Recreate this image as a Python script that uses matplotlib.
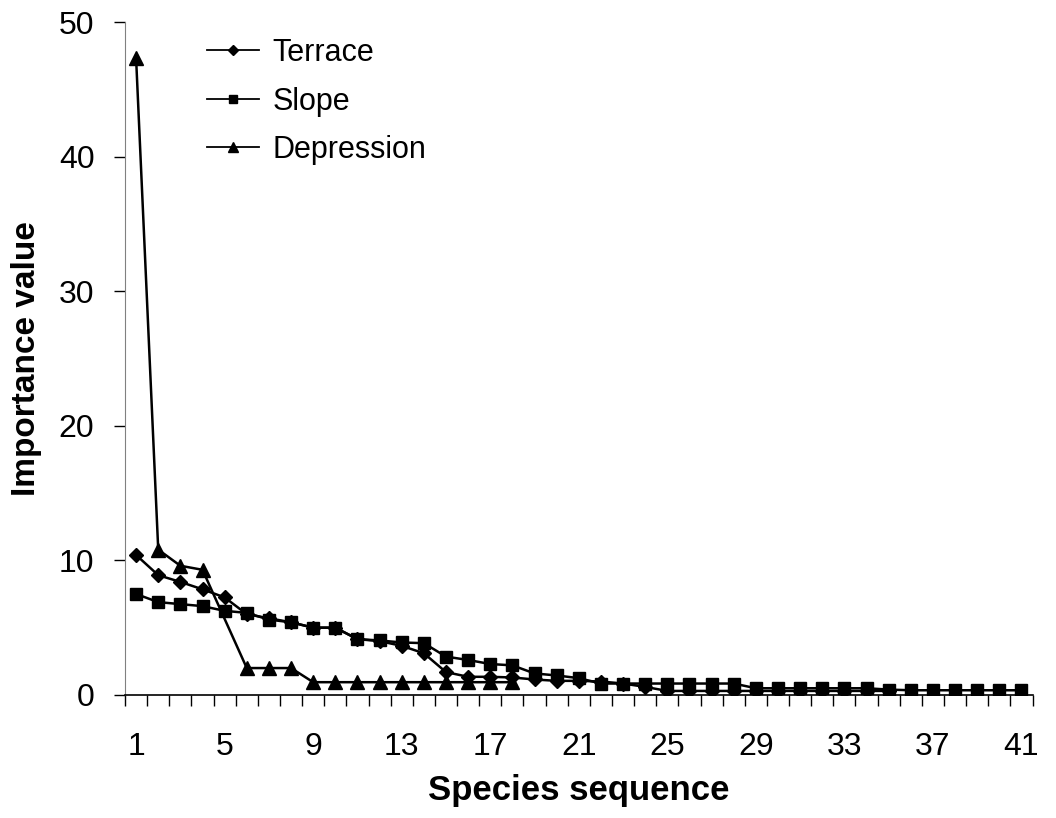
import numpy as np
import matplotlib.pyplot as plt
from matplotlib.ticker import FixedLocator

plt.rcParams["font.family"] = ["Liberation Sans", "DejaVu Sans"]

species = np.arange(1, 42)

terrace = [10.4, 8.9, 8.4, 7.85, 7.25, 6.0, 5.7, 5.4, 5.0, 5.0,
           4.15, 4.0, 3.65, 3.1, 1.7, 1.35, 1.35, 1.3, 1.15, 1.05,
           1.05, 1.0, 0.85, 0.6, 0.3, 0.3, 0.3, 0.3, 0.3, 0.3,
           0.3, 0.3, 0.3, 0.3, 0.3]
slope = [7.5, 6.9, 6.75, 6.6, 6.25, 6.1, 5.6, 5.4, 5.0, 5.0,
         4.15, 4.05, 3.9, 3.85, 2.85, 2.6, 2.3, 2.2, 1.6, 1.45,
         1.25, 0.85, 0.85, 0.85, 0.85, 0.85, 0.85, 0.85, 0.5, 0.5,
         0.5, 0.5, 0.5, 0.5, 0.4, 0.35, 0.35, 0.35, 0.35, 0.35, 0.35]
# species 5 has no depression value
depression = [47.3, 10.8, 9.6, 9.3, np.nan, 2.0, 2.0, 2.0, 0.95, 0.95,
              0.95, 0.95, 0.95, 0.95, 0.95, 0.95, 0.95, 0.95]

fig = plt.figure(figsize=(10.56, 8.18), dpi=100)
ax = fig.add_axes([0.1184, 0.1504, 0.8594, 0.8227])

style = dict(color="black", linewidth=1.8)
ax.plot(species[:len(terrace)], terrace, marker="D", markersize=7.5,
        label="Terrace", **style)
ax.plot(species[:len(slope)], slope, marker="s", markersize=8,
        label="Slope", **style)
dep = np.array(depression)
ok = ~np.isnan(dep)
ax.plot(species[:len(dep)][ok], dep[ok], marker="^", markersize=10,
        label="Depression", **style)

ax.set_xlim(0.5, 41.5)
ax.set_ylim(0, 50)
ax.set_yticks([0, 10, 20, 30, 40, 50])
ax.set_xticks(np.arange(1, 42, 4))
ax.xaxis.set_minor_locator(FixedLocator(np.arange(0.5, 42, 1)))
ax.tick_params(axis="x", which="major", length=0, pad=27, labelsize=23)
ax.tick_params(axis="x", which="minor", length=8, width=1, direction="out")
ax.tick_params(axis="y", length=8, width=1, direction="out", pad=14, labelsize=23)

ax.spines["top"].set_visible(False)
ax.spines["right"].set_visible(False)
ax.spines["left"].set_color("#808080")
ax.spines["bottom"].set_linewidth(1.2)

ax.set_xlabel("Species sequence", fontsize=25, fontweight="bold", labelpad=8)
ax.set_ylabel("Importance value", fontsize=24, fontweight="bold", labelpad=12)

leg = ax.legend(loc="upper left", bbox_to_anchor=(0.182, 0.972),
                bbox_transform=fig.transFigure, frameon=False, fontsize=22,
                handlelength=1.7, handletextpad=0.43, labelspacing=0.6,
                markerscale=0.7, borderpad=0)
for line in leg.get_lines():
    line.set_linewidth(1.3)

fig.savefig("out.png", dpi=100)
